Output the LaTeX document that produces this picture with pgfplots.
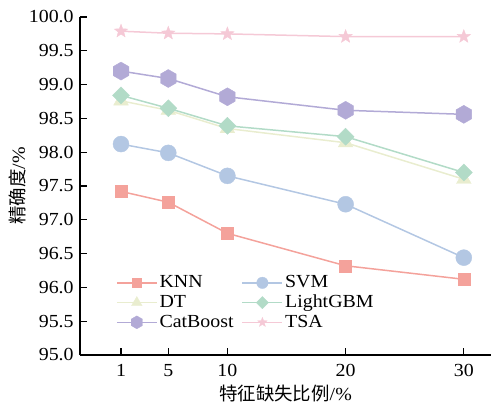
\documentclass[border=0pt]{standalone}
\usepackage{fontspec}
\setmainfont{Liberation Serif}[FakeStretch=1.08]
\newfontfamily\cjk{Noto Sans CJK SC}
\usepackage{pgfplots}
\pgfplotsset{compat=1.18}

\definecolor{knn}{HTML}{F4A29B}
\definecolor{svm}{HTML}{B3C7E3}
\definecolor{dt}{HTML}{E9EDCF}
\definecolor{lgbm}{HTML}{B2DBC7}
\definecolor{catb}{HTML}{B2AAD6}
\definecolor{tsa}{HTML}{F5C9D6}

% filled marks that pgfplots does not ship
\pgfdeclareplotmark{hexagon}{%
  \pgfpathmoveto{\pgfqpointpolar{90}{\pgfplotmarksize}}%
  \pgfpathlineto{\pgfqpointpolar{150}{\pgfplotmarksize}}%
  \pgfpathlineto{\pgfqpointpolar{210}{\pgfplotmarksize}}%
  \pgfpathlineto{\pgfqpointpolar{270}{\pgfplotmarksize}}%
  \pgfpathlineto{\pgfqpointpolar{330}{\pgfplotmarksize}}%
  \pgfpathlineto{\pgfqpointpolar{30}{\pgfplotmarksize}}%
  \pgfpathclose
  \pgfusepathqfillstroke}
\pgfdeclareplotmark{diam}{%
  \pgfpathmoveto{\pgfqpoint{0pt}{\pgfplotmarksize}}%
  \pgfpathlineto{\pgfqpoint{-\pgfplotmarksize}{0pt}}%
  \pgfpathlineto{\pgfqpoint{0pt}{-\pgfplotmarksize}}%
  \pgfpathlineto{\pgfqpoint{\pgfplotmarksize}{0pt}}%
  \pgfpathclose
  \pgfusepathqfillstroke}
\pgfdeclareplotmark{fstar}{%
  \pgfpathmoveto{\pgfqpointpolar{90}{\pgfplotmarksize}}%
  \pgfpathlineto{\pgfqpointpolar{126}{0.42\pgfplotmarksize}}%
  \pgfpathlineto{\pgfqpointpolar{162}{\pgfplotmarksize}}%
  \pgfpathlineto{\pgfqpointpolar{198}{0.42\pgfplotmarksize}}%
  \pgfpathlineto{\pgfqpointpolar{234}{\pgfplotmarksize}}%
  \pgfpathlineto{\pgfqpointpolar{270}{0.42\pgfplotmarksize}}%
  \pgfpathlineto{\pgfqpointpolar{306}{\pgfplotmarksize}}%
  \pgfpathlineto{\pgfqpointpolar{342}{0.42\pgfplotmarksize}}%
  \pgfpathlineto{\pgfqpointpolar{18}{\pgfplotmarksize}}%
  \pgfpathlineto{\pgfqpointpolar{54}{0.42\pgfplotmarksize}}%
  \pgfpathclose
  \pgfusepathqfillstroke}

\begin{document}
\fontsize{18.5}{22}\selectfont
\begin{tikzpicture}
\path[use as bounding box] (-80bp,-50bp) rectangle (411bp,355bp);
\begin{axis}[
    at={(0,0)}, anchor=south west,
    scale only axis,
    width=411bp, height=338bp,
    axis lines*=left,
    axis line style={black, line width=1.3bp},
    xmin=-2.47, xmax=32.3,
    ymin=95, ymax=100,
    xtick={1,5,10,20,30},
    ytick={95,95.5,...,100},
    tick align=inside,
    major tick length=7bp,
    tick style={black, line width=1.1bp},
    /pgf/number format/assume math mode=true,
    yticklabel style={/pgf/number format/.cd, fixed, fixed zerofill, precision=1},
    xticklabel style={yshift=-3bp},
    tick label style={font=\fontsize{18.5}{22}\selectfont},
    label style={font=\fontsize{18.5}{22}\selectfont},
    xlabel={{\cjk 特征缺失比例}/\%},
    ylabel={{\cjk 精确度}/\%},
    xlabel style={yshift=4bp},
    ylabel style={yshift=-10bp},
    every axis plot/.append style={line width=1.5bp},
    legend columns=2,
    legend cell align=left,
    legend style={draw=none, fill=none, at={(rel axis cs:0.08,0.248)}, anchor=north west,
        font=\fontsize{18.5}{22}\selectfont, row sep=0.5bp,
        /tikz/every even column/.append style={column sep=6bp}},
    legend image code/.code={%
        \draw[mark repeat=2, mark phase=2, mark options={scale=0.72, line width=0.3bp}]
            plot coordinates {(0bp,0bp) (20bp,0bp) (40bp,0bp)};},
]
\addplot[color=knn, mark=square*, mark size=6bp, mark options={line width=0.4bp}] coordinates {
    (1,97.42) (5,97.26) (10,96.80) (20,96.32) (30,96.12)};
\addplot[color=svm, mark=*, mark size=8bp, mark options={line width=0.4bp}] coordinates {
    (1,98.12) (5,97.99) (10,97.65) (20,97.23) (30,96.44)};
\addplot[color=dt, mark=triangle*, mark size=8.5bp, mark options={line width=0.4bp}] coordinates {
    (1,98.76) (5,98.62) (10,98.35) (20,98.14) (30,97.60)};
\addplot[color=lgbm, mark=diam, mark size=8.5bp, mark options={line width=0.4bp}] coordinates {
    (1,98.84) (5,98.65) (10,98.39) (20,98.23) (30,97.70)};
\addplot[color=catb, mark=hexagon, mark size=9bp, mark options={line width=0.4bp}] coordinates {
    (1,99.20) (5,99.09) (10,98.82) (20,98.62) (30,98.56)};
\addplot[color=tsa, mark=fstar, mark size=7bp, mark options={line width=0.4bp}] coordinates {
    (1,99.79) (5,99.76) (10,99.75) (20,99.71) (30,99.71)};
\legend{KNN, SVM, DT, LightGBM, CatBoost, TSA}
\end{axis}
\end{tikzpicture}
\end{document}
